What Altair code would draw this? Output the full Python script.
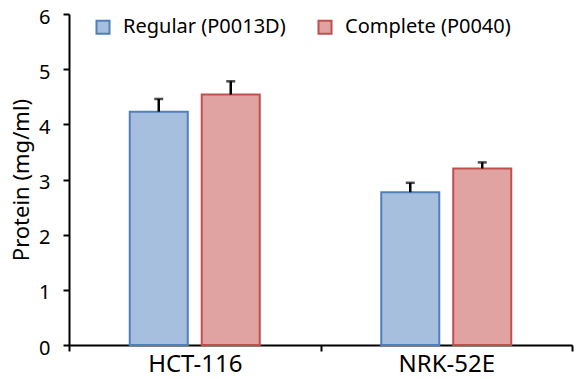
import altair as alt
import pandas as pd

cells = ["HCT-116", "HCT-116", "NRK-52E", "NRK-52E"]
series = ["Regular (P0013D)", "Complete (P0040)", "Regular (P0013D)", "Complete (P0040)"]
means = [4.23, 4.54, 2.77, 3.20]
errs = [0.23, 0.24, 0.17, 0.11]

series_order = ["Regular (P0013D)", "Complete (P0040)"]
fills = ["#A7BFDE", "#E0A3A2"]
strokes = ["#4F7FBD", "#C0504D"]

df = pd.DataFrame({"cell": cells, "series": series, "mean": means, "err": errs})
df["hi"] = df["mean"] + df["err"]

FONT = "Noto Sans"
YTITLE = "Protein (mg/ml)"

x = alt.X("cell:N", title=None,
          scale=alt.Scale(paddingInner=0, paddingOuter=0),
          axis=alt.Axis(labelAngle=0, tickBand="extent"))
xo = alt.XOffset("series:N", sort=series_order,
                 scale=alt.Scale(paddingInner=0.194, paddingOuter=0.844))
yscale = alt.Scale(domain=[0, 6], nice=False)
yaxis = alt.Axis(values=[0, 1, 2, 3, 4, 5, 6], format="d")

base = alt.Chart(df)

bars = base.mark_bar(strokeWidth=2).encode(
    x=x, xOffset=xo,
    y=alt.Y("mean:Q", title=YTITLE, scale=yscale, axis=yaxis),
    fill=alt.Fill("series:N", sort=series_order,
                  scale=alt.Scale(domain=series_order, range=fills),
                  legend=alt.Legend(title=None, orient="none", direction="horizontal",
                                    legendX=24, legendY=3, symbolType="square", symbolSize=170,
                                    symbolStrokeWidth=2, labelFont=FONT, labelFontSize=20,
                                    labelColor="black", columnPadding=28, labelOffset=10,
                                    labelLimit=0)),
    stroke=alt.Stroke("series:N", sort=series_order,
                      scale=alt.Scale(domain=series_order, range=strokes), legend=None),
)

rules = base.mark_rule(color="black", strokeWidth=2.5).encode(
    x=x, xOffset=xo, y=alt.Y("mean:Q", title=YTITLE, scale=yscale, axis=yaxis), y2="hi:Q")
caps = base.mark_tick(color="black", thickness=2.5, size=9, orient="horizontal").encode(
    x=x, xOffset=xo, y=alt.Y("hi:Q", title=YTITLE, scale=yscale, axis=yaxis))

chart = alt.layer(bars, rules, caps).properties(
    width=503, height=331,
    autosize=alt.AutoSizeParams(type="none"),
    padding={"left": 61, "top": 6, "right": 2, "bottom": 40},
).configure_view(stroke=None).configure_axis(
    labelFont=FONT, titleFont=FONT, labelColor="black", titleColor="black",
    domainColor="black", domainWidth=2, tickColor="black", tickWidth=2, tickSize=6, grid=False,
).configure_axisX(
    labelFontSize=24, labelPadding=1,
).configure_axisY(
    labelFontSize=20, labelPadding=13, labelOffset=3,
    titleFontSize=22, titleFontWeight="normal", titlePadding=5,
)

chart.save("out.html", embed_options={"renderer": "svg", "actions": False})
